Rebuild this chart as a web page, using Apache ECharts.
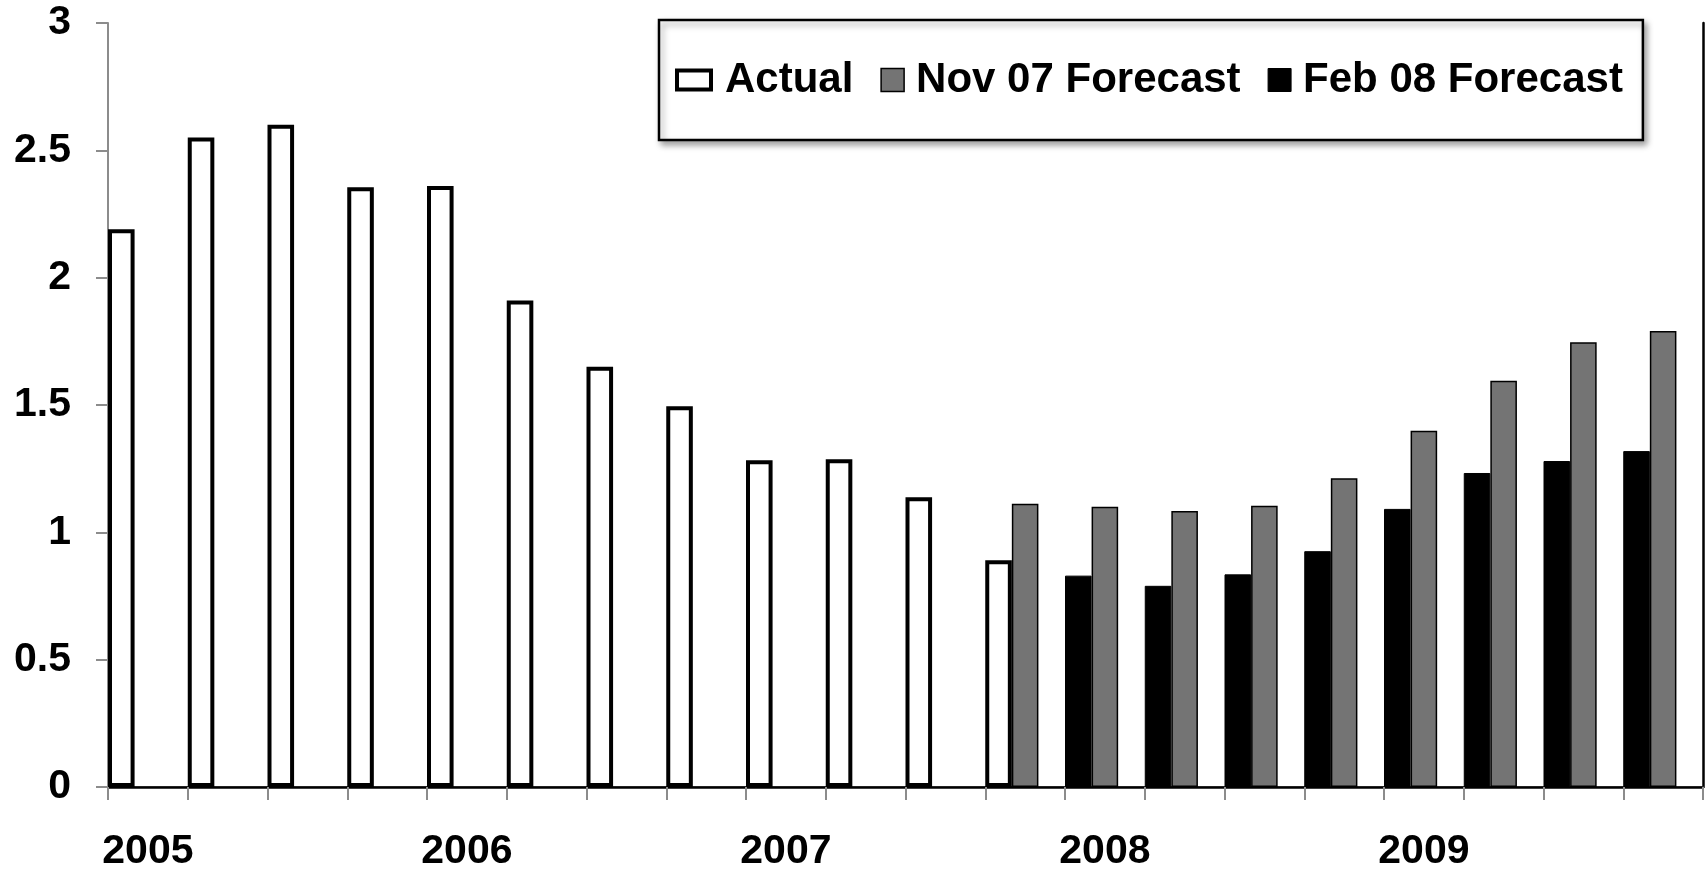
<!DOCTYPE html>
<html>
<head>
<meta charset="utf-8">
<script src="https://cdn.jsdelivr.net/npm/echarts@6/dist/echarts.min.js"></script>
<style>
html,body{margin:0;padding:0;background:#fff;}
#chart{width:1707px;height:872px;}
</style>
</head>
<body>
<div id="chart"></div>
<script>
var categories = ['2005','2005Q2','2005Q3','2005Q4','2006','2006Q2','2006Q3','2006Q4','2007','2007Q2','2007Q3','2007Q4','2008','2008Q2','2008Q3','2008Q4','2009','2009Q2','2009Q3','2009Q4'];
var actual = [2.19, 2.55, 2.60, 2.355, 2.36, 1.91, 1.65, 1.495, 1.283, 1.287, 1.138, 0.89, '-', '-', '-', '-', '-', '-', '-', '-'];
var nov07 = ['-', '-', '-', '-', '-', '-', '-', '-', '-', '-', '-', 1.112, 1.10, 1.084, 1.104, 1.212, 1.399, 1.595, 1.746, 1.791];
var feb08 = ['-', '-', '-', '-', '-', '-', '-', '-', '-', '-', '-', '-', 0.830, 0.790, 0.835, 0.926, 1.092, 1.233, 1.280, 1.319];
var yTicks = [0, 0.5, 1, 1.5, 2, 2.5, 3];

var FONT = '"Liberation Sans", Arial, sans-serif';
var chart = echarts.init(document.getElementById('chart'), null, {renderer: 'canvas'});
var option = {
  backgroundColor: '#fff',
  animation: false,
  grid: {left: 108, right: 4, top: 23, bottom: 83, containLabel: false},
  legend: {
    left: 659, top: 20,
    padding: [39, 20, 39, 14],
    itemGap: 12,
    itemWidth: 38, itemHeight: 23,
    borderColor: '#000', borderWidth: 2.5,
    backgroundColor: '#fff',
    shadowColor: 'rgba(0,0,0,0.35)', shadowBlur: 6, shadowOffsetX: 3, shadowOffsetY: 4,
    textStyle: {fontFamily: FONT, fontWeight: 'bold', fontSize: 42, color: '#000', padding: [0, 0, 0, 7]},
    data: [
      {name: 'Actual', icon: 'path://M0,0M38,23M2,2h34v19h-34z', itemStyle: {color: '#fff', borderColor: '#000', borderWidth: 4}},
      {name: 'Nov 07 Forecast', icon: 'path://M0,0M38,23M15,0h23v23h-23z', itemStyle: {color: '#747474', borderColor: '#000', borderWidth: 1.5}},
      {name: 'Feb 08 Forecast', icon: 'path://M0,0M38,23M15,0h23v23h-23z', itemStyle: {color: '#000', borderColor: '#000', borderWidth: 1}}
    ]
  },
  xAxis: [{
    type: 'category',
    data: categories,
    axisLine: {lineStyle: {color: '#8c8c8c', width: 2}},
    axisTick: {show: true, interval: 0, length: 13, lineStyle: {color: '#8c8c8c', width: 2}},
    axisLabel: {
      interval: 3, margin: 44,
      fontFamily: FONT, fontWeight: 'bold', fontSize: 41, color: '#000',
      formatter: function (v) { return v.length === 4 ? v : ''; }
    }
  }, {
    type: 'category', position: 'top', data: categories,
    axisLine: {lineStyle: {color: '#000', width: 2.5}},
    axisTick: {show: false}, axisLabel: {show: false}
  }],
  yAxis: [{
    type: 'value', min: 0, max: 3, interval: 0.5,
    axisLine: {show: true, lineStyle: {color: '#8c8c8c', width: 2}},
    axisTick: {show: true, length: 12, lineStyle: {color: '#8c8c8c', width: 2}},
    splitLine: {show: false},
    axisLabel: {
      margin: 37, fontFamily: FONT, fontWeight: 'bold', fontSize: 41, color: '#000',
      formatter: function (v) { return yTicks.indexOf(v) >= 0 ? String(v) : ''; }
    }
  }, {
    type: 'value', position: 'right', min: 0, max: 3, interval: 0.5,
    axisLine: {show: true, lineStyle: {color: '#000', width: 2.5}},
    axisTick: {show: false}, axisLabel: {show: false}, splitLine: {show: false}
  }],
  series: [
    {
      name: 'Actual', type: 'bar', stack: 'a', data: actual,
      barCategoryGap: '0%', barGap: '0%',
      itemStyle: {color: '#fff', borderColor: '#000', borderWidth: 4}
    },
    {
      name: 'Feb 08 Forecast', type: 'bar', stack: 'a', data: feb08,
      barCategoryGap: '0%', barGap: '0%',
      itemStyle: {color: '#000', borderColor: '#000', borderWidth: 1}
    },
    {
      name: 'Nov 07 Forecast', type: 'bar', data: nov07,
      barCategoryGap: '0%', barGap: '0%',
      itemStyle: {color: '#747474', borderColor: '#000', borderWidth: 1.5}
    },
    {
      name: 'spacer', type: 'bar', data: categories.map(function () { return '-'; }),
      barCategoryGap: '0%', barGap: '0%', silent: true
    }
  ]
};
chart.setOption(option);
</script>
</body>
</html>
